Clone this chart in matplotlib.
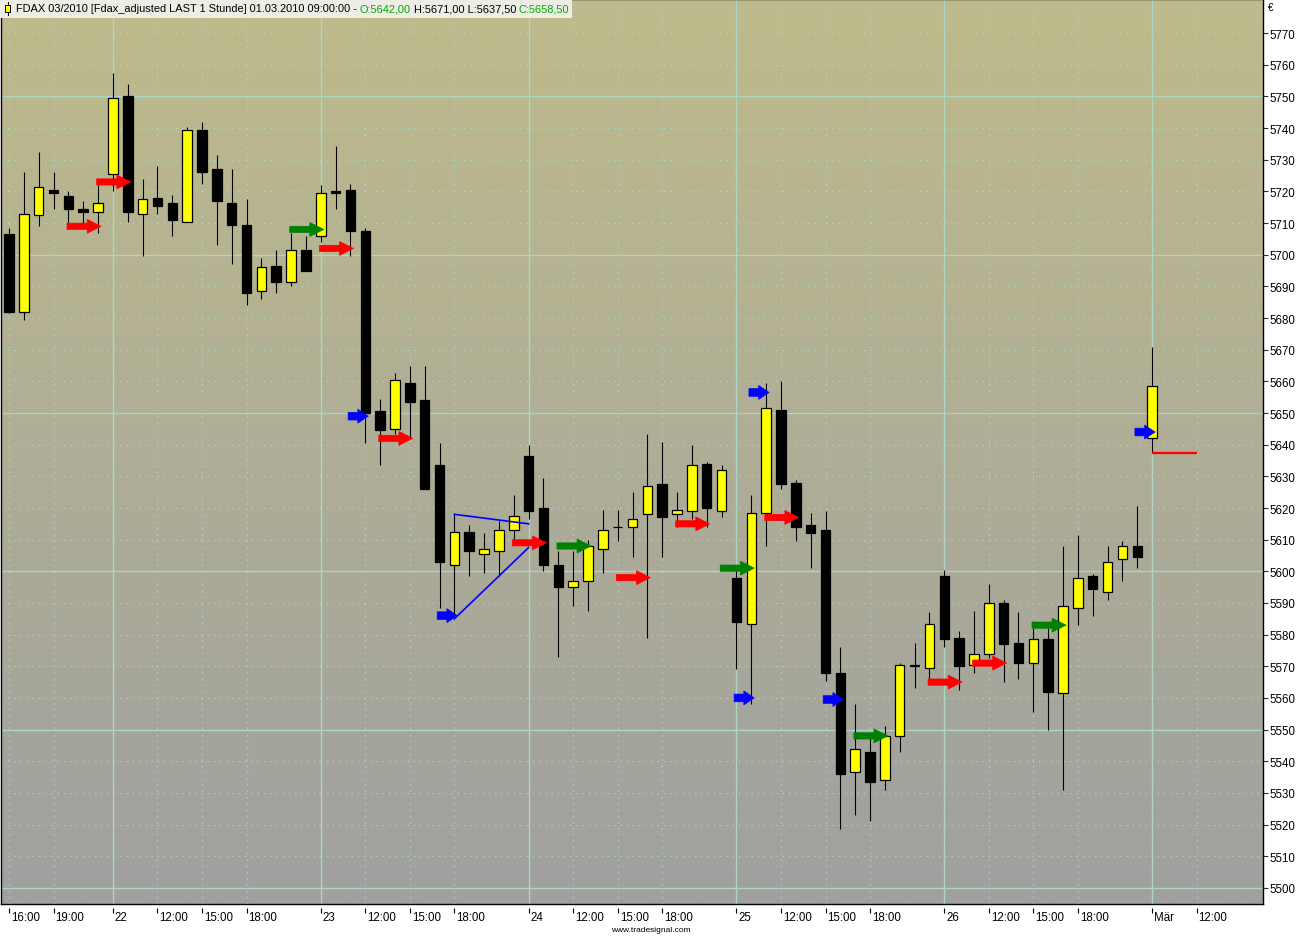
import numpy as np
import matplotlib
matplotlib.use("Agg")
import matplotlib.pyplot as plt
from matplotlib.patches import Rectangle
from matplotlib.transforms import blended_transform_factory, offset_copy

plt.rcParams['font.family'] = ['Liberation Sans', 'DejaVu Sans']

# ---------------- data ----------------
opens = [5706.5, 5682, 5712.5, 5720.5, 5718.5, 5714.5, 5713.5, 5725.5, 5750, 5713,
         5718, 5716.5, 5710.5, 5739.5, 5727, 5716.5, 5709.5, 5688.5, 5696.5, 5691.5,
         5701.5, 5706, 5720, 5720.5, 5707.5, 5650.5, 5645, 5659.5, 5654, 5633.5,
         5602, 5612.5, 5605.5, 5606.5, 5613, 5636.5, 5620, 5602, 5595, 5597,
         5607, 5614, 5614, 5618, 5627.5, 5618, 5619, 5634, 5619, 5598,
         5583.5, 5618.5, 5651, 5628, 5614.5, 5613, 5568, 5536.5, 5543, 5534,
         5548, 5570.5, 5569.5, 5598.5, 5579, 5570.5, 5574, 5590, 5577.5, 5571,
         5578.5, 5561.5, 5588.5, 5598.5, 5593.5, 5604, 5608, 5642]
highs = [5708.5, 5726, 5732.5, 5726, 5720, 5717, 5722, 5757.5, 5754, 5724,
         5728, 5719, 5740.5, 5742, 5731.5, 5727, 5717.5, 5699, 5701.5, 5707,
         5706, 5722, 5734.5, 5722.5, 5708.5, 5654.5, 5662.5, 5665, 5665, 5640.5,
         5618, 5614.5, 5612, 5616, 5624, 5640, 5629.5, 5606.5, 5606.5, 5610,
         5619.5, 5619.5, 5625, 5643.5, 5641, 5625, 5640, 5634.5, 5633.5, 5600,
         5624, 5659.5, 5660, 5629, 5618.5, 5619, 5576, 5558, 5548, 5551,
         5571, 5577.5, 5587, 5600.5, 5581, 5587.5, 5596, 5591, 5587, 5582,
         5582, 5608, 5611.5, 5599, 5608, 5609.5, 5620.5, 5671]
lows = [5681.5, 5679.5, 5709, 5714.5, 5710, 5710, 5707, 5720, 5710.5, 5699.5,
        5713, 5706, 5710.5, 5722.5, 5703, 5697, 5684, 5686, 5688, 5690,
        5695, 5704, 5714.5, 5699.5, 5640.5, 5633.5, 5643.5, 5642, 5626, 5588.5,
        5585, 5598.5, 5599.5, 5598.5, 5609.5, 5616.5, 5600, 5573, 5589, 5587.5,
        5599.5, 5609.5, 5604.5, 5579, 5604.5, 5614, 5616.5, 5614, 5617, 5569,
        5558, 5608, 5626, 5609.5, 5601, 5565.5, 5518.5, 5523, 5521, 5531,
        5543, 5563, 5565, 5576, 5562.5, 5568, 5572.5, 5565, 5566, 5555.5,
        5550, 5531, 5583, 5586, 5591, 5597, 5601, 5637.5]
closes = [5682, 5713, 5721.5, 5719.5, 5714.5, 5713.5, 5716.5, 5749.5, 5713.5, 5717.5,
          5715.5, 5711, 5739.5, 5726, 5717, 5709.5, 5688, 5696, 5691.5, 5701.5,
          5695, 5719.5, 5719.5, 5707.5, 5650, 5644.5, 5660.5, 5653.5, 5626, 5603,
          5612.5, 5606.5, 5607, 5613, 5617.5, 5619, 5602, 5595, 5597, 5608,
          5613, 5614, 5616.5, 5627, 5617, 5619.5, 5633.5, 5620, 5632, 5584,
          5618.5, 5651.5, 5627.5, 5614, 5612, 5568, 5536, 5544, 5533.5, 5548,
          5570.5, 5570, 5583.5, 5578.5, 5570, 5574, 5590, 5577, 5571, 5578.5,
          5562, 5589, 5598, 5594.5, 5603, 5608, 5604.5, 5658.5]

x_tick_pos = [0, 3, 7, 10, 13, 16, 21, 24, 27, 30, 35, 38, 41, 44,
              49, 52, 55, 58, 63, 66, 69, 72, 77, 80]
x_tick_labels = ['16:00', '19:00', '22', '12:00', '15:00', '18:00',
                 '23', '12:00', '15:00', '18:00', '24', '12:00', '15:00', '18:00',
                 '25', '12:00', '15:00', '18:00', '26', '12:00', '15:00', '18:00',
                 'Mär', '12:00']
day_starts = [7, 21, 35, 49, 63, 77]
price_ticks = list(range(5500, 5771, 10))

signal_bars = [6, 8, 21, 23, 24, 27, 30, 36, 39, 43, 47, 50, 51, 53,
               50, 56, 59, 64, 67, 71, 77]
signal_prices = [5709, 5723, 5708, 5702, 5649, 5642, 5586, 5609, 5608, 5598,
                 5615, 5601, 5656.5, 5617, 5560, 5559.5, 5548, 5565, 5571, 5583, 5644]
signal_kinds = ['short', 'short', 'long', 'short', 'mark', 'short', 'mark', 'short',
                'long', 'short', 'short', 'long', 'mark', 'short', 'mark', 'mark',
                'long', 'short', 'short', 'long', 'mark']

trend_x0 = [30, 30]
trend_y0 = [5618, 5585]
trend_x1 = [35, 35]
trend_y1 = [5615, 5607.5]

stop_bars = [77, 80]
stop_level = 5637.5

title_main = "FDAX 03/2010 [Fdax_adjusted LAST 1 Stunde] 01.03.2010 09:00:00 - "

# ---------------- figure ----------------
W, H = 1305, 937
fig = plt.figure(figsize=(W / 100, H / 100), dpi=100, facecolor='white')
ax = fig.add_axes([1 / W, 32 / H, 1262 / W, 905 / H])

xmin, xmax = -0.54, 84.47
ymin, ymax = 5494.9, 5780.8

# gradient background
top_c = np.array([190, 187, 139]) / 255
bot_c = np.array([160, 160, 160]) / 255
t = np.linspace(0, 1, 256)[:, None, None]
grad = top_c[None, None, :] * (1 - t) + bot_c[None, None, :] * t
ax.imshow(grad, extent=(xmin, xmax, ymin, ymax), aspect='auto', origin='upper',
          zorder=0, interpolation='bilinear')

grid_c = '#AED6C4'
for p in price_ticks:
    if p % 50 == 0:
        ax.axhline(p, color=grid_c, lw=1.0, zorder=1)
    else:
        ax.axhline(p, color=grid_c, lw=0.9, ls=(0, (1, 4)), zorder=1)
for xp in x_tick_pos:
    if xp in day_starts:
        ax.axvline(xp, color=grid_c, lw=1.0, zorder=1)
    else:
        ax.axvline(xp, color=grid_c, lw=0.9, ls=(0, (1, 4)), zorder=1)

# candles
o = np.array(opens); c = np.array(closes); h = np.array(highs); l = np.array(lows)
x = np.arange(len(o))
body_col = np.where(c >= o, '#FFFF00', '#000000')
ax.vlines(x, l, h, color='black', lw=0.8, zorder=3)
ax.bar(x, c - o, bottom=o, width=0.64, color=body_col, edgecolor='black',
       linewidth=0.9, zorder=4)

# trend lines
for a0, b0, a1, b1 in zip(trend_x0, trend_y0, trend_x1, trend_y1):
    ax.plot([a0, a1], [b0, b1], color='#0000FF', lw=1.2, zorder=5)

# stop line
ax.plot(stop_bars, [stop_level, stop_level], color='#FF0000', lw=1.6, zorder=5,
        solid_capstyle='butt')

# signal arrows
kind_col = {'short': '#FF0000', 'long': '#008000', 'mark': '#0000FF'}
for b, p, k in zip(signal_bars, signal_prices, signal_kinds):
    col = kind_col[k]
    if k == 'mark':
        L = 14.5
        style = 'simple,head_length=0.75,head_width=1.0,tail_width=0.55'
    else:
        L = 24.5
        style = 'simple,head_length=1.0,head_width=1.0,tail_width=0.45'
    ax.annotate('', xy=(b + 0.2, p), xytext=(-L, 0), textcoords='offset points',
                arrowprops=dict(arrowstyle=style, fc=col, ec=col, lw=0.5,
                                shrinkA=0, shrinkB=0, mutation_scale=10),
                zorder=6, annotation_clip=False)

ax.set_xlim(xmin, xmax)
ax.set_ylim(ymin, ymax)

for s in ax.spines.values():
    s.set_color('black')
    s.set_linewidth(1.0)

# y axis on right
ax.yaxis.tick_right()
ax.set_yticks(price_ticks)
ax.set_yticklabels([str(p) for p in price_ticks])
ax.tick_params(axis='y', length=3.5, width=0.8, color='#333333', pad=1.5,
               labelsize=8.3, direction='out')

# x axis: manual ticks + left-aligned labels
ax.set_xticks([])
btrans = blended_transform_factory(ax.transData, ax.transAxes)
ax.vlines(x_tick_pos, -9 / 905, -4 / 905, transform=btrans, color='black',
          lw=0.8, clip_on=False)
ltrans = offset_copy(btrans, fig=fig, x=2, y=-7, units='dots')
for xp, lab in zip(x_tick_pos, x_tick_labels):
    ax.text(xp, 0, lab, transform=ltrans, ha='left', va='top', fontsize=8.3,
            color='black', clip_on=False)

# currency sign
fig.text(1268 / W, 1 - 8 / H, '€', fontsize=7, ha='left', va='center')
# watermark
fig.text(651 / W, 1 - 931 / H, 'www.tradesignal.com', fontsize=6, ha='center',
         va='center')

# ---------------- title box ----------------
def fmt(v):
    return f"{v:.2f}".replace('.', ',')

segs = [(title_main, 'black'),
        ("O:" + fmt(opens[-1]), '#00AA00'),
        (" H:" + fmt(highs[-1]) + " L:" + fmt(lows[-1]) + " ", 'black'),
        ("C:" + fmt(closes[-1]), '#00AA00')]

box = Rectangle((0, 1 - 19 / H), 572 / W, 19 / H, transform=fig.transFigure,
                facecolor='#EDEDE6', edgecolor='none', zorder=20)
fig.add_artist(box)
# icon
fig.add_artist(plt.Line2D([7.5 / W, 7.5 / W], [1 - 3 / H, 1 - 16 / H],
                          transform=fig.transFigure, color='black', lw=0.8, zorder=21))
fig.add_artist(Rectangle((5 / W, 1 - 13 / H), 5 / W, 7 / H, transform=fig.transFigure,
                         facecolor='#FFFF00', edgecolor='black', lw=0.7, zorder=22))

fs = 8
tobjs = []
for s, col in segs:
    tt = fig.text(16 / W, 1 - 9.5 / H, s, fontsize=fs, color=col,
                  ha='left', va='center', zorder=23)
    tobjs.append(tt)

fig.canvas.draw()
r = fig.canvas.get_renderer()
widths = [tt.get_window_extent(r).width for tt in tobjs]
ratio = 553.0 / sum(widths)
xcur = 16.0
for tt, w in zip(tobjs, widths):
    tt.set_fontsize(fs * ratio)
    tt.set_x(xcur / W)
    xcur += w * ratio
box.set_width((xcur + 3) / W)

fig.savefig('out.png', dpi=100, facecolor='white')
